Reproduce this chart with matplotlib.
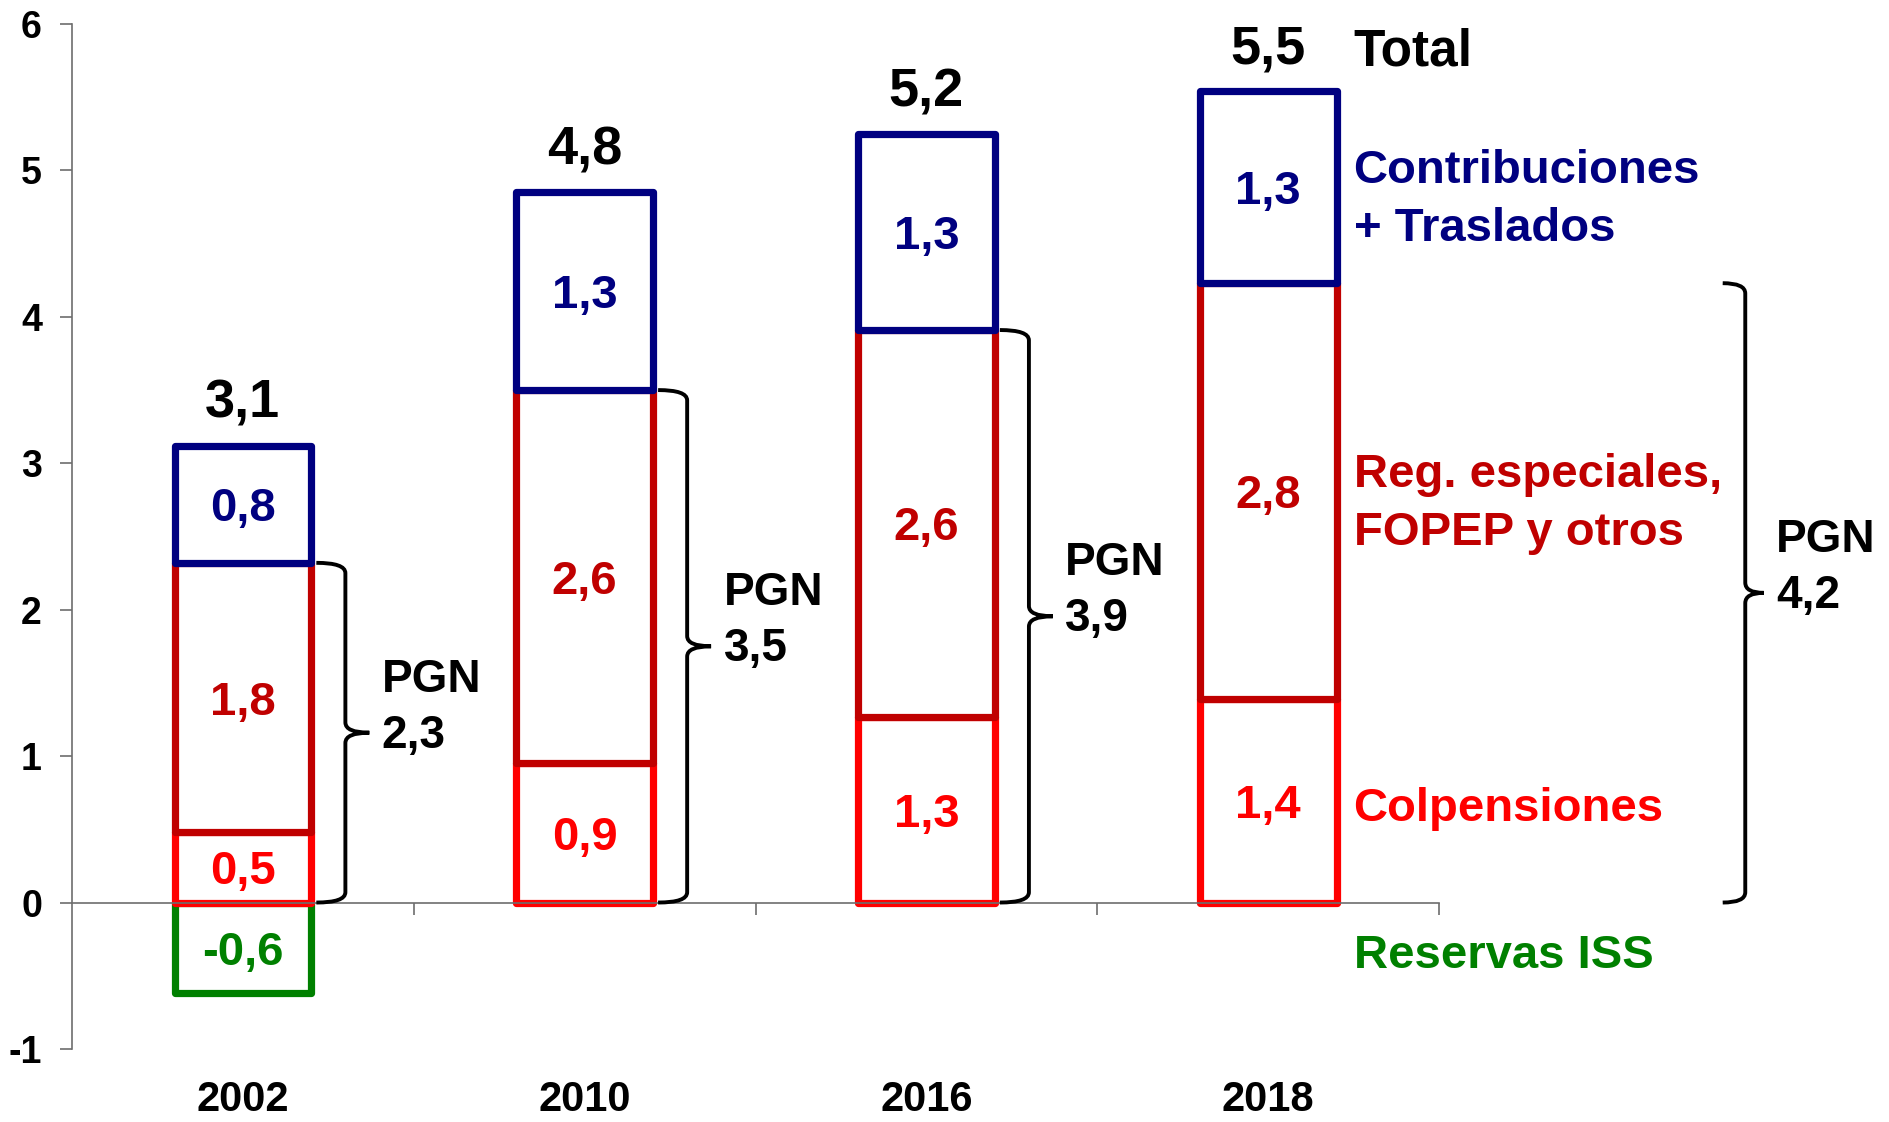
import matplotlib
matplotlib.use('Agg')
import matplotlib.pyplot as plt
from matplotlib.path import Path
from matplotlib.patches import PathPatch

# ---------------- data ----------------
years = ['2002', '2010', '2016', '2018']
reservas_iss = [-0.62, 0.0, 0.0, 0.0]
colpensiones = [0.48, 0.95, 1.27, 1.39]
reg_especiales = [1.84, 2.55, 2.64, 2.84]
contribuciones = [0.80, 1.35, 1.34, 1.31]

reservas_lbl = ['-0,6', '', '', '']
colp_lbl = ['0,5', '0,9', '1,3', '1,4']
reg_lbl = ['1,8', '2,6', '2,6', '2,8']
contrib_lbl = ['0,8', '1,3', '1,3', '1,3']
total_lbl = ['3,1', '4,8', '5,2', '5,5']
pgn_lbl = ['2,3', '3,5', '3,9', '4,2']

series_names = ['Contribuciones\n+ Traslados', 'Reg. especiales,\nFOPEP y otros',
                'Colpensiones', 'Reservas ISS']
total_name = 'Total'
pgn_name = 'PGN'
yticks = [-1, 0, 1, 2, 3, 4, 5, 6]

# ---------------- style ----------------
plt.rcParams['font.family'] = ['Liberation Sans', 'DejaVu Sans']
plt.rcParams['font.weight'] = 'bold'
plt.rcParams['axes.unicode_minus'] = False

NAVY = '#000080'
DARKRED = '#C00000'
RED = '#FF0000'
GREEN = '#008000'
GREY = '#6d6d6d'

fig = plt.figure(figsize=(18.89, 11.22), dpi=100)
ax = fig.add_axes([0.0381, 0.0651, 0.7237, 0.9135])
ax.set_xlim(-0.5, 3.5)
ax.set_ylim(-1, 6)

xs = list(range(len(years)))
W = 0.40
LW = 5.2
common = dict(width=W, facecolor='white', linewidth=LW, joinstyle='round', zorder=1)

def nz(vals, bottoms=None):
    idx = [i for i, v in enumerate(vals) if v != 0]
    b = [bottoms[i] for i in idx] if bottoms is not None else [0] * len(idx)
    return [xs[i] for i in idx], [vals[i] for i in idx], b

px, pv, pb = nz(reservas_iss)
ax.bar(px, pv, bottom=pb, edgecolor=GREEN, **common)
px, pv, pb = nz(colpensiones)
ax.bar(px, pv, bottom=pb, edgecolor=RED, **common)
pgn_vals = [c + r for c, r in zip(colpensiones, reg_especiales)]
px, pv, pb = nz(reg_especiales, colpensiones)
ax.bar(px, pv, bottom=pb, edgecolor=DARKRED, **common)
totals = [p + c for p, c in zip(pgn_vals, contribuciones)]
px, pv, pb = nz(contribuciones, pgn_vals)
ax.bar(px, pv, bottom=pb, edgecolor=NAVY, **common)

# segment labels
FS_SEG = 34
VA = 'center_baseline'
for i in xs:
    if reservas_lbl[i]:
        ax.text(xs[i], reservas_iss[i] / 2, reservas_lbl[i], color=GREEN, fontsize=FS_SEG,
                ha='center', va=VA)
    ax.text(xs[i], colpensiones[i] / 2, colp_lbl[i], color=RED, fontsize=FS_SEG,
            ha='center', va=VA)
    ax.text(xs[i], colpensiones[i] + reg_especiales[i] / 2, reg_lbl[i], color=DARKRED,
            fontsize=FS_SEG, ha='center', va=VA)
    ax.text(xs[i], pgn_vals[i] + contribuciones[i] / 2, contrib_lbl[i], color=NAVY,
            fontsize=FS_SEG, ha='center', va=VA)
    ax.annotate(total_lbl[i], xy=(xs[i], totals[i]), xytext=(0, 20), textcoords='offset points',
                ha='center', va='baseline', fontsize=39, color='black')
    ax.text(xs[i], -1.35, years[i], ha='center', va='center', fontsize=30, clip_on=False)

# braces
brace_off = [0.30, 0.30, 0.30, 1.396]
hook = [0.085, 0.085, 0.085, 0.066]
tip = [0.07, 0.07, 0.07, 0.054]
r = 0.07
for i in xs:
    x1 = xs[i] + brace_off[i]
    x0 = x1 - hook[i]
    x2 = x1 + tip[i]
    top, bot = pgn_vals[i], 0.0
    mid = (top + bot) / 2
    verts = [(x0, top), (x1, top), (x1, top - r), (x1, mid + r), (x1, mid), (x2, mid),
             (x1, mid), (x1, mid - r), (x1, bot + r), (x1, bot), (x0, bot)]
    codes = [Path.MOVETO, Path.CURVE3, Path.CURVE3, Path.LINETO, Path.CURVE3, Path.CURVE3,
             Path.CURVE3, Path.CURVE3, Path.LINETO, Path.CURVE3, Path.CURVE3]
    ax.add_patch(PathPatch(Path(verts, codes), facecolor='none', edgecolor='black',
                           linewidth=2.8, clip_on=False, zorder=3))
    ax.annotate(pgn_name + '\n' + pgn_lbl[i], xy=(x2, mid), xytext=(9, 18),
                textcoords='offset points', ha='left', va='center', fontsize=33,
                color='black', linespacing=1.35, annotation_clip=False)

# legend-like labels
LX = 3.25
ax.text(LX, 5.72, total_name, color='black', fontsize=37, ha='left', va='baseline', clip_on=False)
ax.text(LX, 4.80, series_names[0], color=NAVY, fontsize=34, ha='left', va='center',
        linespacing=1.42, clip_on=False)
ax.text(LX, 2.72, series_names[1], color=DARKRED, fontsize=34, ha='left', va='center',
        linespacing=1.42, clip_on=False)
ax.text(LX, 0.67, series_names[2], color=RED, fontsize=34, ha='left', va=VA, clip_on=False)
ax.text(LX, -0.33, series_names[3], color=GREEN, fontsize=34, ha='left', va=VA, clip_on=False)

# axes
for s in ['top', 'right']:
    ax.spines[s].set_visible(False)
ax.spines['bottom'].set_position(('data', 0))
for s in ['left', 'bottom']:
    ax.spines[s].set_color(GREY)
    ax.spines[s].set_linewidth(1.2)
ax.set_xticks([0.5, 1.5, 2.5, 3.5])
ax.set_xticklabels([])
ax.tick_params(axis='x', direction='out', length=8.6, width=1.2, color=GREY)
ax.set_yticks(yticks)
ax.set_yticklabels([str(v) for v in yticks])
ax.tick_params(axis='y', direction='out', length=8.6, width=1.2, color=GREY, pad=13,
               labelsize=27, labelcolor='black')
ax.patch.set_visible(False)

fig.savefig('out.png', dpi=100)
